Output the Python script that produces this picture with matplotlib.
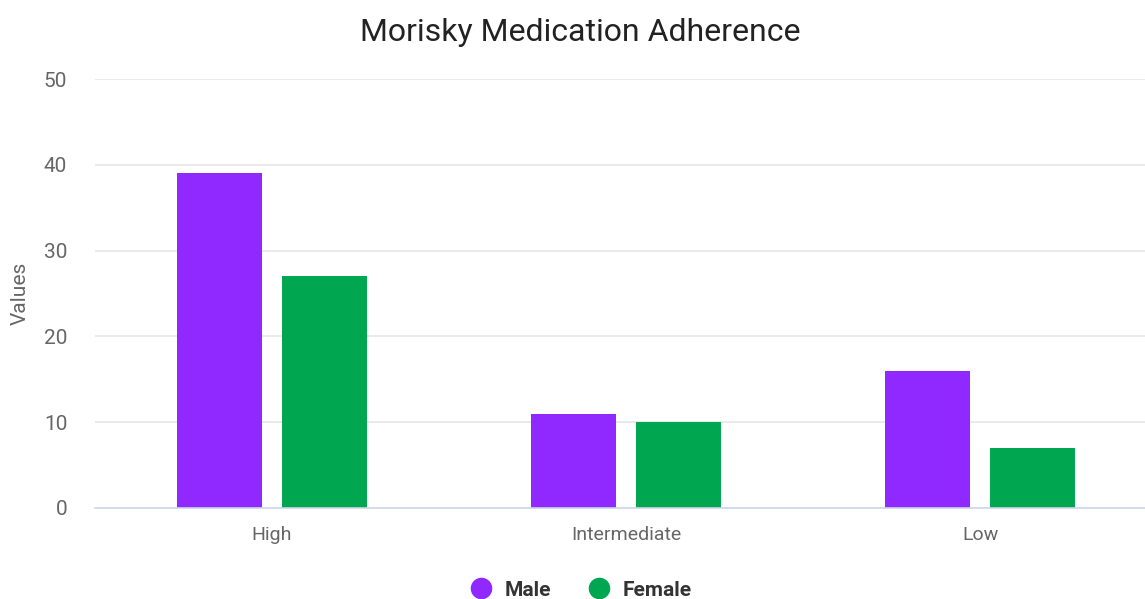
import matplotlib
matplotlib.use("Agg")
import matplotlib.pyplot as plt
import numpy as np
from matplotlib.lines import Line2D

plt.rcParams['font.family'] = ['Roboto', 'DejaVu Sans']

# DATA
categories = ["High", "Intermediate", "Low"]
male = [39, 11, 16]
female = [27, 10, 7]
yticks = [0, 10, 20, 30, 40, 50]

MALE_COLOR = "#9029ff"
FEMALE_COLOR = "#00a650"

fig = plt.figure(figsize=(11.45, 5.99), dpi=100)
ax = fig.add_axes([95 / 1145, 0.152, 1062 / 1145, 0.716])

x = np.arange(len(categories))
w = 0.241
off = 0.149
ax.bar(x - off, male, w, color=MALE_COLOR, zorder=3)
ax.bar(x + off, female, w, color=FEMALE_COLOR, zorder=3)

ax.set_xlim(-0.5, 2.5)
ax.set_ylim(0, 50)
ax.set_yticks(yticks)
ax.set_xticks(x)
ax.set_xticklabels(categories)
ax.tick_params(axis='both', length=0, labelsize=14, colors="#666666")
ax.tick_params(axis='y', labelsize=15, pad=20)
ax.tick_params(axis='x', pad=13)
ax.grid(axis='y', color="#e6e6e6", linewidth=1.2, zorder=0)
for s in ["top", "right", "left"]:
    ax.spines[s].set_visible(False)
ax.spines["bottom"].set_color("#ccd6eb")
ax.spines["bottom"].set_linewidth(1.2)
ax.spines["bottom"].set_zorder(4)

ax.set_ylabel("Values", fontsize=15, color="#666666", labelpad=10)
fig.text(0.507, 0.945, "Morisky Medication Adherence", ha="center", va="center",
         fontsize=23, color="#222222")

handles = [Line2D([], [], marker='o', linestyle='', markersize=14.5, color=MALE_COLOR),
           Line2D([], [], marker='o', linestyle='', markersize=14.5, color=FEMALE_COLOR)]
leg = fig.legend(handles, ["Male", "Female"], loc="center", bbox_to_anchor=(0.503, 0.015),
                 ncol=2, frameon=False, handletextpad=0.15, columnspacing=1.3,
                 prop={'size': 15, 'weight': 'bold'})
for t in leg.get_texts():
    t.set_color("#333333")

fig.savefig("out.png", dpi=100)
